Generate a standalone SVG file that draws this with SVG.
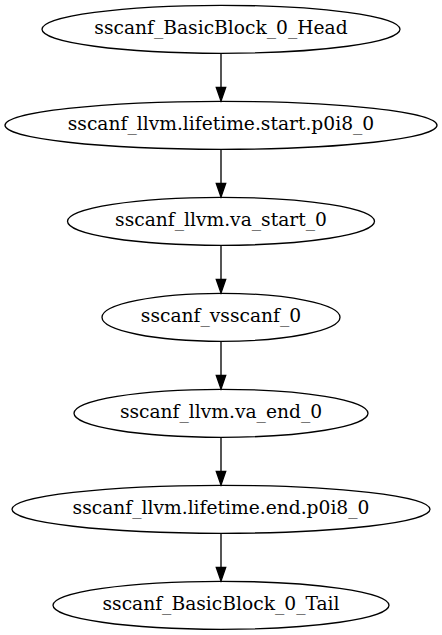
<svg xmlns="http://www.w3.org/2000/svg" width="442" height="635" viewBox="0 0 442 635">
<defs>
<style>
.n ellipse{fill:none;stroke:#000;stroke-width:1.33}
.n text{font-family:"DejaVu Serif",serif;font-size:18.67px;text-anchor:middle;fill:#000}
.e line{stroke:#000;stroke-width:1.33}
.e polygon{fill:#000;stroke:#000;stroke-width:1.33}
</style>
</defs>
<rect width="442" height="635" fill="#fff"/>
<g id="edges" class="e">
<line x1="221" y1="53.3" x2="221" y2="87.5"/><polygon points="216.3,87.5 221,101 225.7,87.5"/>
<line x1="221" y1="149.3" x2="221" y2="183.5"/><polygon points="216.3,183.5 221,197 225.7,183.5"/>
<line x1="221" y1="245.3" x2="221" y2="279.5"/><polygon points="216.3,279.5 221,293 225.7,279.5"/>
<line x1="221" y1="341.3" x2="221" y2="375.5"/><polygon points="216.3,375.5 221,389 225.7,375.5"/>
<line x1="221" y1="437.3" x2="221" y2="471.5"/><polygon points="216.3,471.5 221,485 225.7,471.5"/>
<line x1="221" y1="533.3" x2="221" y2="567.5"/><polygon points="216.3,567.5 221,581 225.7,567.5"/>
</g>
<g id="head" class="n"><ellipse cx="221" cy="29.3" rx="179" ry="24"/><text x="221" y="34.3">sscanf_BasicBlock_0_Head</text></g>
<g id="lifetime_start" class="n"><ellipse cx="221" cy="125.3" rx="216" ry="24"/><text x="221" y="130.3">sscanf_llvm.lifetime.start.p0i8_0</text></g>
<g id="va_start" class="n"><ellipse cx="221" cy="221.3" rx="153.5" ry="24"/><text x="221" y="226.3">sscanf_llvm.va_start_0</text></g>
<g id="vsscanf" class="n"><ellipse cx="221" cy="317.3" rx="119" ry="24"/><text x="221" y="322.3">sscanf_vsscanf_0</text></g>
<g id="va_end" class="n"><ellipse cx="221" cy="413.3" rx="147" ry="24"/><text x="221" y="418.3">sscanf_llvm.va_end_0</text></g>
<g id="lifetime_end" class="n"><ellipse cx="221" cy="509.3" rx="209" ry="24"/><text x="221" y="514.3">sscanf_llvm.lifetime.end.p0i8_0</text></g>
<g id="tail" class="n"><ellipse cx="221" cy="605.3" rx="168" ry="24"/><text x="221" y="610.3">sscanf_BasicBlock_0_Tail</text></g>
</svg>
